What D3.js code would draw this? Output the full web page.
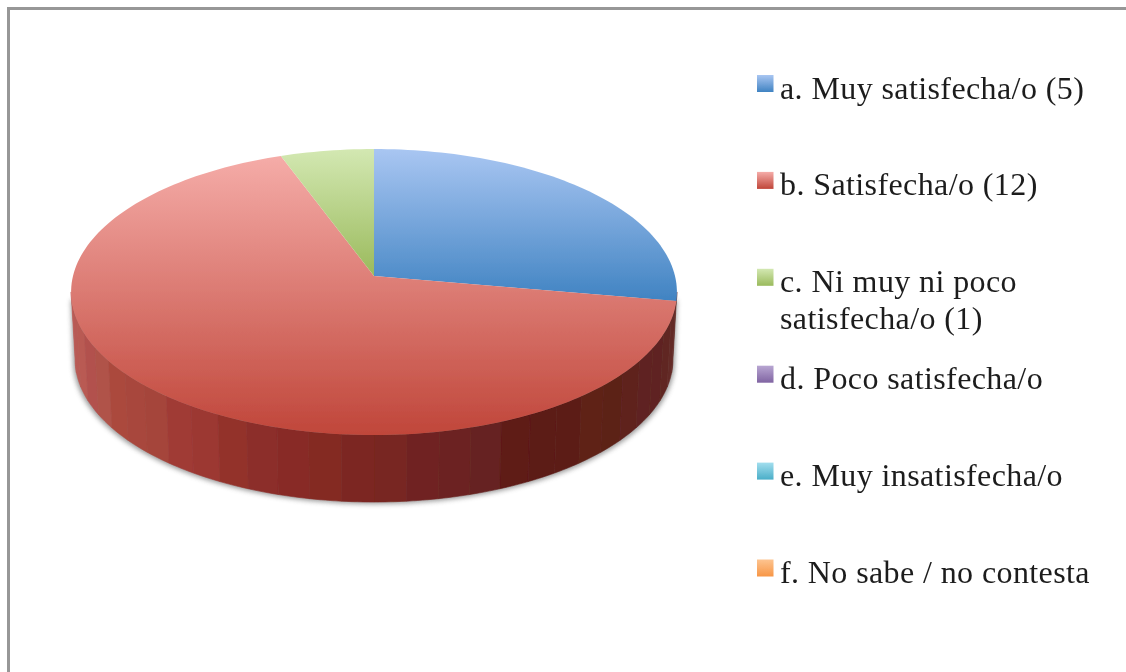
<!DOCTYPE html>
<html>
<head>
<meta charset="utf-8">
<script src="https://cdn.jsdelivr.net/npm/d3@7"></script>
<style>
body { margin: 0; background: #fff; overflow: hidden; }
text { font-family: "Liberation Serif", serif; font-size: 32px; letter-spacing: 0.4px; fill: #1c1c1c; }
</style>
</head>
<body>
<script>
const categories = ['a. Muy satisfecha/o (5)', 'b. Satisfecha/o (12)', 'c. Ni muy ni poco|satisfecha/o (1)',
    'd. Poco satisfecha/o', 'e. Muy insatisfecha/o', 'f. No sabe / no contesta']
const values = [5, 12, 1, 0, 0, 0]

const topLight = ['#a9c6f2', '#f5aca8', '#d3e8b2', '#b8a6d2', '#a2deee', '#fdc490']
const topDark = ['#4083c2', '#c0463a', '#9aba5c', '#8064a2', '#4aaec8', '#f79646']

// shades of the red wall, left to right
const wallShades = ['#bd5d58', '#b85a54', '#b95a52', '#b2514d', '#b0534a', '#ab4a3e', '#a8473c', '#a5453a',
    '#a03a36', '#9c3733', '#93322c', '#8c2e2a', '#882b28', '#842a24', '#7c2722', '#782820',
    '#702422', '#6c2220', '#662420', '#5e1a14', '#5c1a14', '#5c1c16', '#5e2218', '#5c2018',
    '#5e201e', '#5f2420', '#5e2420', '#602822', '#642c28', '#642e28']

const width = 1126
const height = 672

const svg = d3.select('body')
    .append('svg')
    .attr('width', width)
    .attr('height', height)

const defs = svg.append('defs')
defs.append('filter').attr('id', 'soft')
    .attr('x', '-5%').attr('y', '-5%').attr('width', '110%').attr('height', '110%')
    .append('feGaussianBlur').attr('stdDeviation', 0.6)
defs.append('filter').attr('id', 'shadow')
    .attr('x', '-10%').attr('y', '-10%').attr('width', '120%').attr('height', '120%')
    .append('feGaussianBlur').attr('stdDeviation', 2.5)

// frame
svg.append('path')
    .attr('d', 'M8.5,672V8.5H1126')
    .attr('fill', 'none')
    .attr('stroke', '#979797')
    .attr('stroke-width', 3)

// pie seen in perspective: circle centre lands on the slice apex, not the ellipse centre
const cx = 374
const apexY = 276
const persp = 0.112
const tilt = 110.3
const radius = 301
const wallDepth = 67
const wallShrink = 0.987

function project(angle) {
    const sx = Math.sin(angle)
    const t = Math.cos(angle)
    const den = 1 + persp * t
    return [cx + radius * sx / den, (apexY - tilt * t) / den]
}

function projectBottom(angle) {
    const p = project(angle)
    return [cx + (p[0] - cx) * wallShrink, p[1] + wallDepth]
}

const line = d3.line()

const arcs = d3.pie().sort(null).value(d => d)(values)

const g = svg.append('g').attr('filter', 'url(#soft)')

const wallStart = 96.4 * Math.PI / 180
const wallEnd = 263.6 * Math.PI / 180
const wallAngle = d3.scaleLinear().domain([0, wallShades.length]).range([wallEnd, wallStart])

// shadow under the wall
const shadowPts = d3.range(0, 61).map(i => {
    const a = wallStart + (wallEnd - wallStart) * i / 60
    const p = projectBottom(a)
    return [cx + (p[0] - cx) * 1.006, p[1] + 2]
})
svg.insert('path', 'g')
    .attr('d', line([[cx + 303, 300], ...shadowPts, [cx - 303, 300]]) + 'Z')
    .attr('fill', '#777')
    .attr('opacity', 0.75)
    .attr('filter', 'url(#shadow)')

// wall bands
wallShades.forEach((c, i) => {
    const steps = d3.range(0, 7).map(k => wallAngle(i + k / 6))
    const pts = steps.map(project).concat(steps.slice().reverse().map(projectBottom))
    g.append('path')
        .attr('d', line(pts) + 'Z')
        .attr('fill', c)
        .attr('stroke', c)
        .attr('stroke-width', 0.6)
})

// top face slices
arcs.forEach((d, i) => {
    if (d.value === 0) return
    const n = Math.max(2, Math.ceil((d.endAngle - d.startAngle) * 40))
    const rim = d3.range(0, n + 1).map(k => project(d.startAngle + (d.endAngle - d.startAngle) * k / n))
    const ys = rim.map(p => p[1]).concat([apexY])
    const id = 'face' + i
    const grad = defs.append('linearGradient').attr('id', id)
        .attr('gradientUnits', 'userSpaceOnUse')
        .attr('x1', 0).attr('x2', 0)
        .attr('y1', d3.min(ys)).attr('y2', d3.max(ys))
    grad.append('stop').attr('offset', 0).attr('stop-color', topLight[i])
    grad.append('stop').attr('offset', 1).attr('stop-color', topDark[i])
    g.append('path')
        .attr('d', line([[cx, apexY], ...rim]) + 'Z')
        .attr('fill', 'url(#' + id + ')')
})

// legend
const legendY = d3.scalePoint().domain(d3.range(categories.length)).range([83.5, 568])

const legend = svg.append('g').attr('filter', 'url(#soft)')

categories.forEach((label, i) => {
    const id = 'swatch' + i
    const grad = defs.append('linearGradient').attr('id', id)
        .attr('x1', 0).attr('x2', 0).attr('y1', 0).attr('y2', 1)
    grad.append('stop').attr('offset', 0).attr('stop-color', topLight[i])
    grad.append('stop').attr('offset', 1).attr('stop-color', topDark[i])

    legend.append('rect')
        .attr('x', 757)
        .attr('y', legendY(i) - 8.5)
        .attr('width', 16.5)
        .attr('height', 17)
        .attr('fill', 'url(#' + id + ')')

    label.split('|').forEach((part, k) => {
        legend.append('text')
            .text(part)
            .attr('x', 780)
            .attr('y', legendY(i) + 15 + k * 36.5)
    })
})
</script>
</body>
</html>
